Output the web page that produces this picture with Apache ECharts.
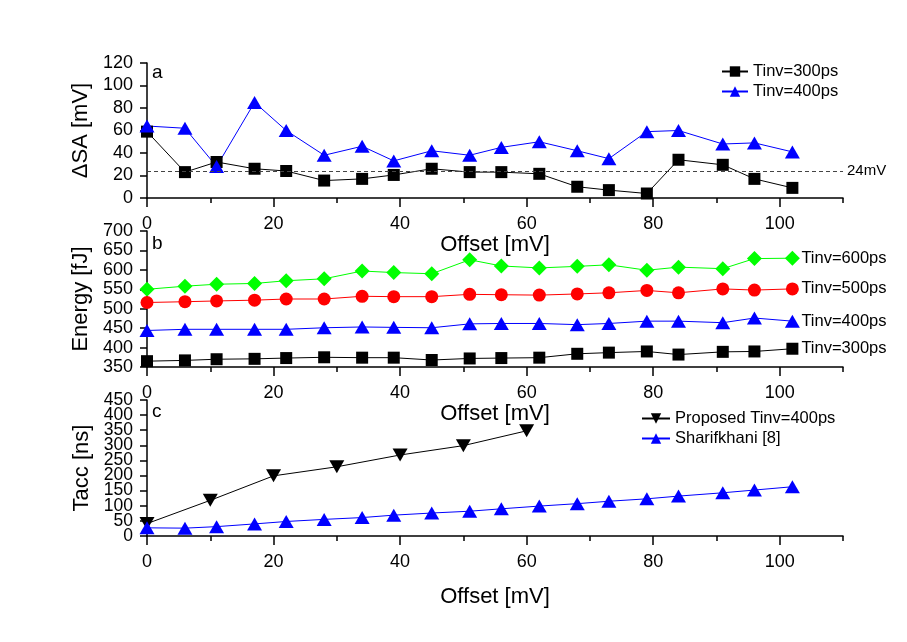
<!DOCTYPE html>
<html>
<head>
<meta charset="utf-8">
<script src="https://cdn.jsdelivr.net/npm/echarts@6/dist/echarts.min.js"></script>
<style>html,body{margin:0;padding:0;background:#fff;}#c{width:907px;height:642px;}</style>
</head>
<body>
<div id="c"></div>
<script>
// ---- data ----
const offsets = [0, 6, 11, 17, 22, 28, 34, 39, 45, 51, 56, 62, 68, 73, 79, 84, 91, 96, 102];
const dsa300 = [59, 23, 32, 26, 24, 15.5, 17, 20.5, 26, 23, 23, 21.5, 10, 7, 4, 34, 29.5, 17, 9];
const dsa400 = [64, 62, 28, 85, 60, 38, 46, 33, 42, 38, 45, 50, 42, 35, 59, 60, 48, 49, 41];
const dsaThreshold = 24;
const energy600 = [550, 558, 563, 565, 572, 577, 597, 593, 590, 626, 610, 605, 609, 613, 599, 607, 603, 629, 630];
const energy500 = [516, 518, 520, 522, 525, 525, 532, 531, 531, 537, 536, 535, 538, 541, 547, 541, 551, 548, 551];
const energy400 = [444, 447, 447, 447, 447, 451, 453, 452, 451, 461, 462, 462, 459, 462, 468, 468, 464, 476, 468];
const energy300 = [365, 367, 370, 371, 373, 375, 374, 374, 368, 372, 373, 374, 384, 387, 390, 382, 389, 390, 397];
const proposedOffsets = [0, 10, 20, 30, 40, 50, 60];
const taccProposed = [41, 118, 199, 229, 268, 299, 348];
const taccSharif = [27, 26, 31, 40, 48, 55, 61, 69, 76, 82, 90, 99, 107, 115, 123, 132, 143, 152, 163];
const xMajorTicks = [0, 20, 40, 60, 80, 100];
const xMinorTicks = [10, 30, 50, 70, 90, 110];
const yRanges = [[0, 120, 20], [350, 700, 50], [0, 450, 50]];
const taccLabelsA = [0, 100, 200, 300, 400];
const taccLabelsB = [50, 150, 250, 350, 450];
const yNames = ['\u0394SA [mV]', 'Energy [fJ]', 'Tacc [ns]'];
const panelLetters = ['a', 'b', 'c'];

const FONT = 'Liberation Sans, Arial, sans-serif';
const pair = (xs, ys) => xs.map((x, i) => [x, ys[i]]);

const grids = [
  {left: 147, top: 63, width: 696, height: 135},
  {left: 147, top: 231, width: 696, height: 136},
  {left: 147, top: 400, width: 696, height: 136}
];
const xNameGaps = [33, 34, 50];
const yLabelSizes = [18, 18, 17.5];

const xAxes = [];
for (let i = 0; i < 3; i++) {
  xAxes.push({
    gridIndex: i, type: 'value', min: 0, max: 110, interval: 10, position: 'bottom',
    axisLine: {show: true, onZero: false, lineStyle: {color: '#000', width: 1.5}},
    axisTick: {show: true, customValues: xMajorTicks, length: 9, lineStyle: {color: '#000', width: 1.5}},
    axisLabel: {customValues: xMajorTicks, fontSize: 18, color: '#000', margin: 17, fontFamily: FONT},
    splitLine: {show: false},
    name: 'Offset [mV]', nameLocation: 'middle', nameGap: xNameGaps[i],
    nameTextStyle: {fontSize: 22, color: '#000', fontFamily: FONT}
  });
}
for (let i = 0; i < 3; i++) {
  xAxes.push({
    gridIndex: i, type: 'value', min: 0, max: 110, interval: 10, position: 'bottom',
    axisLine: {show: false},
    axisTick: {show: true, customValues: xMinorTicks, length: 5, lineStyle: {color: '#000', width: 1.5}},
    axisLabel: {show: false}, splitLine: {show: false}
  });
}
const yAxes = yRanges.map((r, i) => ({
  gridIndex: i, type: 'value', min: r[0], max: r[1], interval: r[2], position: 'left',
  axisLine: {show: true, onZero: false, lineStyle: {color: '#000', width: 1.5}},
  axisTick: {show: true, length: 7, lineStyle: {color: '#000', width: 1.5}},
  axisLabel: Object.assign({fontSize: yLabelSizes[i], color: '#000', margin: 14, fontFamily: FONT},
              i === 2 ? {customValues: taccLabelsA} : {}),
  splitLine: {show: false},
  name: yNames[i], nameLocation: 'middle', nameGap: 54,
  nameTextStyle: {fontSize: 22, color: '#000', fontFamily: FONT}
}));
// second label layer for the dense Tacc axis
yAxes.push({
  gridIndex: 2, type: 'value', min: yRanges[2][0], max: yRanges[2][1], interval: yRanges[2][2],
  position: 'left', offset: 0,
  axisLine: {show: false}, axisTick: {show: false}, splitLine: {show: false},
  axisLabel: {customValues: taccLabelsB, fontSize: yLabelSizes[2], color: '#000', margin: 14, fontFamily: FONT}
});

function lineSeries(name, xi, data, color, symbol, size, extra) {
  return Object.assign({
    name: name, type: 'line', xAxisIndex: xi, yAxisIndex: xi, data: data,
    symbol: symbol, symbolSize: size, showAllSymbol: true,
    lineStyle: {color: color, width: 1},
    itemStyle: {color: color, borderWidth: 0},
    z: 3, animation: false, clip: false
  }, extra || {});
}
const endLabel = (txt) => ({
  show: true, formatter: txt, distance: 9, fontSize: 16.5, color: '#000', fontFamily: FONT
});

const series = [
  lineSeries('Tinv=300ps', 0, pair(offsets, dsa300), '#000000', 'rect', 12, {
    markLine: {
      silent: true, symbol: 'none', animation: false,
      lineStyle: {color: '#444', type: [4, 3], width: 1},
      label: {show: true, position: 'end', formatter: '24mV', fontSize: 15, color: '#000', fontFamily: FONT, distance: 4},
      data: [{yAxis: dsaThreshold}]
    }
  }),
  lineSeries('Tinv=400ps', 0, pair(offsets, dsa400), '#0000ff', 'triangle', [15, 13]),
  lineSeries('E600', 1, pair(offsets, energy600), '#00ff00', 'diamond', 15, {endLabel: endLabel('Tinv=600ps')}),
  lineSeries('E500', 1, pair(offsets, energy500), '#ff0000', 'circle', 13, {endLabel: endLabel('Tinv=500ps')}),
  lineSeries('E400', 1, pair(offsets, energy400), '#0000ff', 'triangle', [15, 13], {endLabel: endLabel('Tinv=400ps')}),
  lineSeries('E300', 1, pair(offsets, energy300), '#000000', 'rect', 12, {endLabel: endLabel('Tinv=300ps')}),
  lineSeries('Proposed Tinv=400ps', 2, pair(proposedOffsets, taccProposed), '#000000', 'triangle', [15, 13], {symbolRotate: 180}),
  lineSeries('Sharifkhani [8]', 2, pair(offsets, taccSharif), '#0000ff', 'triangle', [15, 13])
];

const chart = echarts.init(document.getElementById('c'), null, {renderer: 'canvas'});
chart.setOption({
  animation: false,
  backgroundColor: '#fff',
  textStyle: {fontFamily: FONT},
  grid: grids,
  xAxis: xAxes,
  yAxis: yAxes,
  legend: [
    {data: ['Tinv=300ps', 'Tinv=400ps'], orient: 'vertical', left: 716, top: 58,
     itemWidth: 26, itemHeight: 13, itemGap: 3, selectedMode: false,
     textStyle: {fontSize: 16.5, color: '#000', fontFamily: FONT}},
    {data: ['Proposed Tinv=400ps', 'Sharifkhani [8]'], orient: 'vertical', left: 636, top: 405,
     itemWidth: 28, itemHeight: 13, itemGap: 3, selectedMode: false,
     textStyle: {fontSize: 16.5, color: '#000', fontFamily: FONT}}
  ],
  graphic: panelLetters.map((t, i) => ({
    type: 'text', left: 152, top: [63, 234, 402][i],
    style: {text: t, fontSize: 19, fill: '#000', fontFamily: FONT}
  })),
  series: series
});
</script>
</body>
</html>
